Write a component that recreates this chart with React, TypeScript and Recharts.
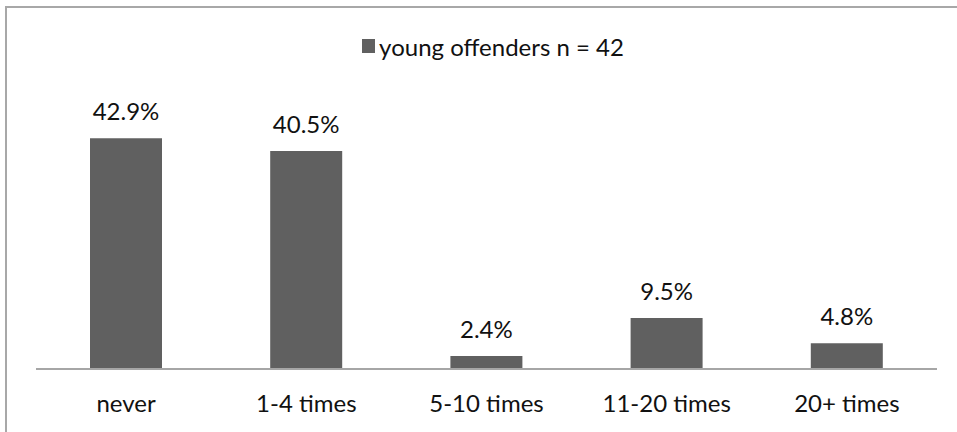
import React from 'react';
import { BarChart, Bar, XAxis, YAxis, Legend, LabelList } from 'recharts';

// ── Data ───────────────────────────────────────────────────

const CATEGORIES = ['never', '1-4 times', '5-10 times', '11-20 times', '20+ times'];
const VALUES = [42.9, 40.5, 2.4, 9.5, 4.8];
const SERIES_NAME = 'young offenders n = 42';

const data = CATEGORIES.map((c, i) => ({ category: c, value: VALUES[i] }));

const FONT = 'Lato, "Open Sans", sans-serif';
const BAR_COLOR = '#606060';

const LegendContent = () => (
  <div style={{ display: 'flex', justifyContent: 'center', alignItems: 'center', height: 30, fontFamily: FONT, fontSize: 24, color: '#111' }}>
    <span style={{ display: 'inline-block', width: 13, height: 14, background: BAR_COLOR, marginRight: 4 }} />
    <span>{SERIES_NAME}</span>
  </div>
);

const CategoryTick = ({ x, y, payload }: any) => (
  <text x={x} y={y + 43} textAnchor="middle" fontFamily={FONT} fontSize={24} fill="#111">
    {payload.value}
  </text>
);

export default function App() {
  return (
    <div style={{ position: 'absolute', left: 0, top: 0, width: 957, height: 432, overflow: 'hidden', background: '#fff' }}>
      <div style={{ position: 'absolute', left: 5, top: 6, width: 1000, height: 1000, border: '2px solid #a8a8a8' }} />
      <div style={{ position: 'absolute', left: 0, top: 0 }}>
        <BarChart width={957} height={432} data={data} margin={{ top: 70, right: 20, bottom: 0, left: 36 }}>
          <XAxis
            dataKey="category"
            axisLine={{ stroke: '#a6a6a6', strokeWidth: 2 }}
            tickLine={false}
            tickSize={0}
            tickMargin={0}
            height={63}
            tick={<CategoryTick />}
            interval={0}
          />
          <YAxis hide domain={[0, 50]} />
          <Legend verticalAlign="top" content={<LegendContent />} wrapperStyle={{ top: 31, left: 0, width: 986, height: 30 }} />
          <Bar dataKey="value" name={SERIES_NAME} fill={BAR_COLOR} barSize={72} isAnimationActive={false}>
            <LabelList
              dataKey="value"
              position="top"
              offset={18}
              formatter={(v: any) => `${Number(v).toFixed(1)}%`}
              style={{ fontFamily: FONT, fontSize: 24, fill: '#111' }}
            />
          </Bar>
        </BarChart>
      </div>
    </div>
  );
}
